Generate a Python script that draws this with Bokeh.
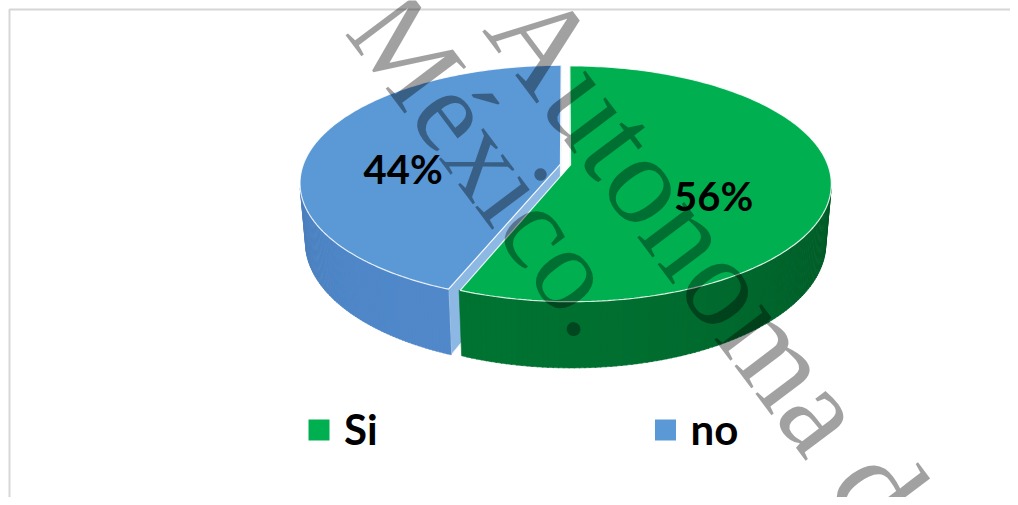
import numpy as np
from bokeh.plotting import figure
from bokeh.models import Range1d
from bokeh.core.properties import value
from bokeh.embed import file_html
from bokeh.resources import INLINE

# ---------------- data ----------------
categories = ["Si", "no"]
values = [56, 44]
top_colors = ["#00B050", "#5A98D6"]
side_colors = ["#006A2E", "#4A7EBB"]
cut_colors = ["#00953F", "#8DB8E4"]
watermark_texts = ["México.", "Autonoma de"]
watermark_sizes = ["118px", "128px"]

# ---------------- 3D pie projection ----------------
ELEV = np.radians(26.5)
DIST = 5.6
FOCAL = 1440.0
THICK = 0.26
EXPLODE = 0.02
CX, CY = 563.0, 162.0
ce, se = np.cos(ELEV), np.sin(ELEV)
CAM = np.array([0.0, -DIST * ce, DIST * se])
LIGHT = np.array([-0.5, -1.0, 0.5])
LIGHT = LIGHT / np.linalg.norm(LIGHT)


def project(x, y, z):
    x = np.asarray(x, float); y = np.asarray(y, float); z = np.asarray(z, float)
    zc = y * ce - z * se + DIST
    u = FOCAL * x / zc
    v = FOCAL * (y * se + z * ce) / zc
    return CX + u, CY - v


def shade(hexcol, f):
    h = hexcol.lstrip("#")
    r, g, b = (int(h[i:i + 2], 16) for i in (0, 2, 4))
    r, g, b = (int(max(0, min(255, c * f))) for c in (r, g, b))
    return "#%02x%02x%02x" % (r, g, b)


W, H = 1010, 497
X0, Y0 = -2, -2
p = figure(width=W, height=H, x_range=Range1d(X0, X0 + W), y_range=Range1d(Y0 + H, Y0),
           output_backend="svg", toolbar_location=None, min_border=0)
p.axis.visible = False
p.grid.visible = False
p.outline_line_color = None
p.background_fill_color = "white"
p.border_fill_color = "white"

# chart-area frame
p.quad(left=[7], right=[1009], top=[7], bottom=[540], fill_color=None,
       line_color="#d6d6d6", line_width=2)

total = float(sum(values))
angles = np.cumsum([0] + values) / total * 2 * np.pi
slices = []
for i, cat in enumerate(categories):
    a0, a1 = angles[i], angles[i + 1]
    mid = 0.5 * (a0 + a1)
    ox, oy = EXPLODE * np.sin(mid), EXPLODE * np.cos(mid)
    slices.append(dict(i=i, a0=a0, a1=a1, mid=mid, ox=ox, oy=oy))

# paint farther slices first
slices.sort(key=lambda s: -np.cos(s["mid"]))

for s in slices:
    i, a0, a1, ox, oy = s["i"], s["a0"], s["a1"], s["ox"], s["oy"]
    # radial cut faces
    for ang, sign in ((a0, -1), (a1, 1)):
        n = sign * np.array([np.cos(ang), -np.sin(ang), 0.0])
        fc = np.array([ox + 0.5 * np.sin(ang), oy + 0.5 * np.cos(ang), -THICK / 2])
        if np.dot(CAM - fc, n) > 0:
            xs3 = [ox, ox + np.sin(ang), ox + np.sin(ang), ox]
            ys3 = [oy, oy + np.cos(ang), oy + np.cos(ang), oy]
            zs3 = [0, 0, -THICK, -THICK]
            X, Y = project(xs3, ys3, zs3)
            p.patch(list(X), list(Y), fill_color=cut_colors[i], line_color="#eef4fb",
                    line_width=1)
    # outer wall, in shaded segments
    th = np.linspace(a0, a1, 200)
    qx, qy, cols = [], [], []
    for k in range(len(th) - 1):
        tm = 0.5 * (th[k] + th[k + 1])
        n = np.array([np.sin(tm), np.cos(tm), 0.0])
        P = np.array([ox + np.sin(tm), oy + np.cos(tm), -THICK / 2])
        if np.dot(CAM - P, n) <= 0:
            continue
        t0, t1 = th[k], th[k + 1] + 0.004
        xs3 = [ox + np.sin(t0), ox + np.sin(t1), ox + np.sin(t1), ox + np.sin(t0)]
        ys3 = [oy + np.cos(t0), oy + np.cos(t1), oy + np.cos(t1), oy + np.cos(t0)]
        zs3 = [0, 0, -THICK, -THICK]
        X, Y = project(xs3, ys3, zs3)
        qx.append(list(X)); qy.append(list(Y))
        cols.append(shade(side_colors[i], 0.9 + 0.2 * float(np.dot(n, LIGHT))))
    if qx:
        p.patches(qx, qy, fill_color=cols, line_color=cols, line_width=0.6)
    # top surface
    xs3 = [ox] + list(ox + np.sin(th))
    ys3 = [oy] + list(oy + np.cos(th))
    zs3 = [0] * len(xs3)
    X, Y = project(xs3, ys3, zs3)
    p.patch(list(X), list(Y), fill_color=top_colors[i], line_color="white",
            line_width=1.2, line_alpha=0.85)
    # percentage label
    lx, ly = project(ox + 0.6 * np.sin(s["mid"]), oy + 0.6 * np.cos(s["mid"]), -0.116)
    p.text(x=[float(lx)], y=[float(ly)], text=["%d%%" % values[i]],
           x_offset=-10, y_offset=-9,
           text_font=value("Lato"), text_font_style="bold", text_font_size="40px",
           text_color="black", text_align="center", text_baseline="middle")

# watermark
wm_x = [490, 722]
wm_y = [162, 279]
for k in range(len(watermark_texts)):
    p.text(x=[wm_x[k]], y=[wm_y[k]], text=[watermark_texts[k]], angle=-np.radians(53),
           text_font=value("Liberation Serif"), text_font_size=watermark_sizes[k],
           text_color="black", text_alpha=0.37, text_align="center",
           text_baseline="middle")

# legend
leg_x = [316.5, 663.0]
leg_y = 427.5
p.scatter(x=leg_x, y=[leg_y] * 2, marker="square", size=21, fill_color=top_colors,
          line_color=None)
p.text(x=[x + 25 for x in leg_x], y=[leg_y - 1] * 2, text=categories,
       text_font=value("Lato"), text_font_style="bold", text_font_size="42px",
       text_color="black", text_align="left", text_baseline="middle")

open("out.html", "w").write(file_html(p, INLINE))
